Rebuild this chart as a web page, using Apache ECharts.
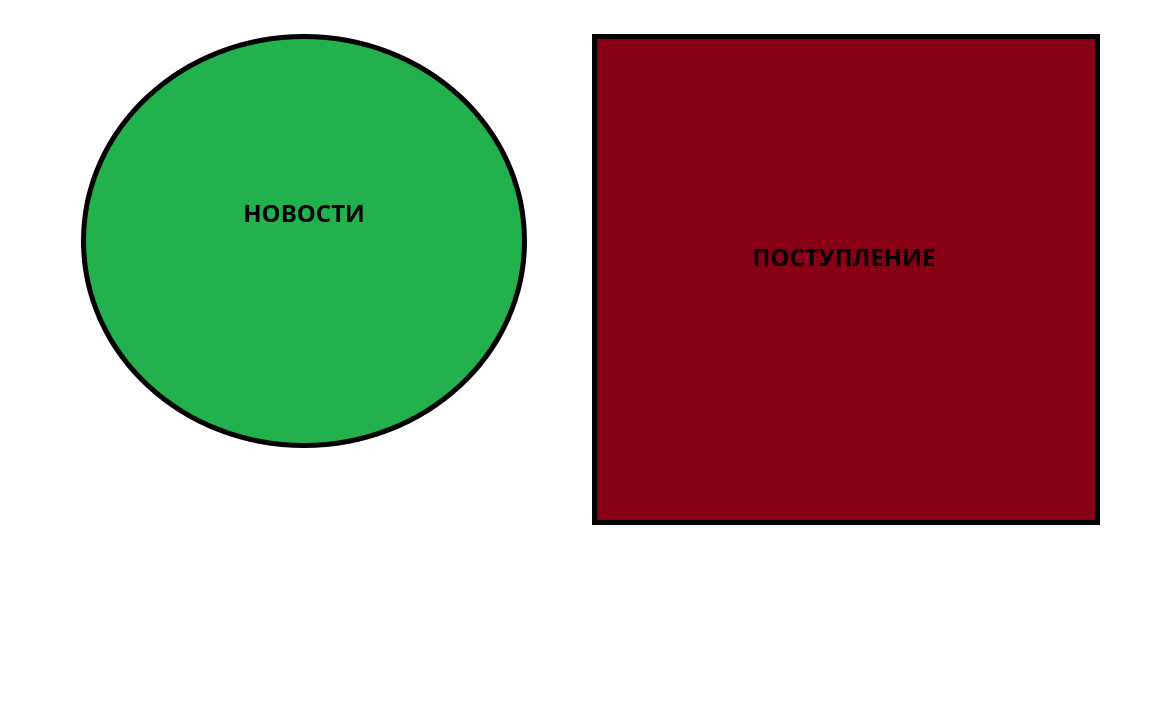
<!DOCTYPE html>
<html>
<head>
<meta charset="utf-8">
<title>Новости / Поступление</title>
<script src="https://cdn.jsdelivr.net/npm/echarts@6/dist/echarts.min.js"></script>
<style>
    html, body { margin: 0; padding: 0; background: #fff; }
    #main { width: 1152px; height: 720px; }
</style>
</head>
<body>
<div id="main"></div>
<script>
// данные фигур (в координатах осей 0..1152 / 0..720)
var labels = ['НОВОСТИ', 'ПОСТУПЛЕНИЕ'];
var kinds = ['ellipse', 'rect'];
var boxX0 = [83.5, 594.5];
var boxY0 = [36.5, 36.5];
var boxX1 = [524.5, 1097.5];
var boxY1 = [445.5, 522.5];
var labelX = [304, 844];
var labelY = [215, 259];
var fills = ['#22b14c', '#880015'];

var seriesData = [];
for (var i = 0; i < labels.length; i++) {
    seriesData.push([boxX0[i], boxY0[i], boxX1[i], boxY1[i], labelX[i], labelY[i]]);
}

var myChart = echarts.init(document.getElementById('main'));

var option = {
    animation: false,
    grid: { left: 0, right: 0, top: 0, bottom: 0 },
    xAxis: { type: 'value', min: 0, max: 1152, show: false },
    yAxis: { type: 'value', min: 0, max: 720, inverse: true, show: false },
    series: [{
        type: 'custom',
        coordinateSystem: 'cartesian2d',
        data: seriesData,
        renderItem: function (params, api) {
            var i = params.dataIndex;
            var p0 = api.coord([api.value(0), api.value(1)]);
            var p1 = api.coord([api.value(2), api.value(3)]);
            var pl = api.coord([api.value(4), api.value(5)]);
            var shape;
            if (kinds[i] === 'ellipse') {
                shape = {
                    type: 'ellipse',
                    shape: {
                        cx: (p0[0] + p1[0]) / 2,
                        cy: (p0[1] + p1[1]) / 2,
                        rx: Math.abs(p1[0] - p0[0]) / 2,
                        ry: Math.abs(p1[1] - p0[1]) / 2
                    },
                    style: { fill: fills[i], stroke: '#000', lineWidth: 5 }
                };
            } else {
                shape = {
                    type: 'rect',
                    shape: {
                        x: Math.min(p0[0], p1[0]),
                        y: Math.min(p0[1], p1[1]),
                        width: Math.abs(p1[0] - p0[0]),
                        height: Math.abs(p1[1] - p0[1])
                    },
                    style: { fill: fills[i], stroke: '#000', lineWidth: 5 }
                };
            }
            return {
                type: 'group',
                children: [shape, {
                    type: 'text',
                    style: {
                        x: pl[0],
                        y: pl[1],
                        text: labels[i],
                        fill: '#000',
                        font: 'bold 24px "Open Sans", "Noto Sans", sans-serif',
                        align: 'center',
                        verticalAlign: 'middle'
                    }
                }]
            };
        }
    }]
};

myChart.setOption(option);
window.onresize = myChart.resize;
</script>
</body>
</html>
